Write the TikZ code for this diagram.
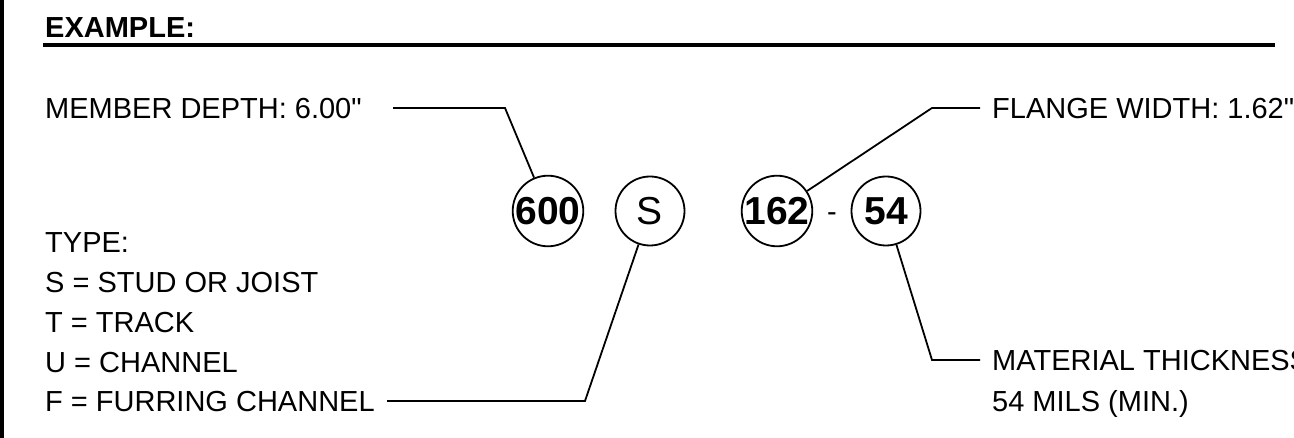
\documentclass[tikz,border=0pt]{standalone}
\usepackage{fontspec}
\setmainfont{Liberation Sans}[Ligatures=TeXOff]
\usepackage{tikz}
\usetikzlibrary{positioning, calc}
\newcommand{\lblfont}[0]{\fontsize{29}{35}\selectfont}
\newcommand{\bubfont}[0]{\fontsize{39}{42}\selectfont}

\tikzset{
  lbl/.style={anchor=base west, inner sep=0pt, font=\lblfont},
  bubble/.style={circle, draw, line width=1.8pt, minimum size=69pt, inner sep=0pt, font=\bubfont},
  leader/.style={line width=1.8pt, line join=miter}
}

\begin{document}
\begin{tikzpicture}[x=1pt, y=-1pt]
                        \useasboundingbox (0,0) rectangle (1294,438);
                        % frame and heading
                        \draw[line width=4pt] (2,0) -- (2,438);
                        \node[lbl, font=\lblfont\bfseries] (head) at (45,38) {EXAMPLE:};
                        \draw[line width=3.5pt] (43,45) -- (1275,45);

                        % bubbles
                        \node[bubble] (c600) at (548,211) {\bfseries 600};
                        \node[bubble] (cS) at (650,211) {S};
                        \node[bubble] (c162) at (777,211) {\bfseries 162};
                        \node[font=\lblfont, inner sep=0pt] (dash) at (832,217) {-};
                        \node[bubble] (c54) at (886,211) {\bfseries 54};

                        % labels
                        \node[lbl] (depth) at (45,119) {MEMBER DEPTH: 6.00"};
                        \node[lbl] (type) at (45,253) {TYPE:};
                        \node[lbl] (tS) at (45,293) {S = STUD OR JOIST};
                        \node[lbl] (tT) at (45,333) {T = TRACK};
                        \node[lbl] (tU) at (45,373) {U = CHANNEL};
                        \node[lbl] (tF) at (45,412) {F = FURRING CHANNEL};
                        \node[lbl] (flange) at (992,119) {FLANGE WIDTH: 1.62"};
                        \node[lbl] (thick) at (992,371) {MATERIAL THICKNESS};
                        \node[lbl] (mils) at (992,411) {54 MILS (MIN.)};

                        % leaders
                        \coordinate (d0) at (393,108);
                        \coordinate (d1) at (505,108);
                        \coordinate (f0) at (387,401);
                        \coordinate (f1) at (585,401);
                        \coordinate (w0) at (980,108);
                        \coordinate (w1) at (932,108);
                        \coordinate (t0) at (980,360);
                        \coordinate (t1) at (932,360);
                        \draw[leader] (d0) -- (d1) -- (c600);
                        \draw[leader] (f0) -- (f1) -- (cS);
                        \draw[leader] (w0) -- (w1) -- (c162);
                        \draw[leader] (t0) -- (t1) -- (c54);
                    \end{tikzpicture}
\end{document}
